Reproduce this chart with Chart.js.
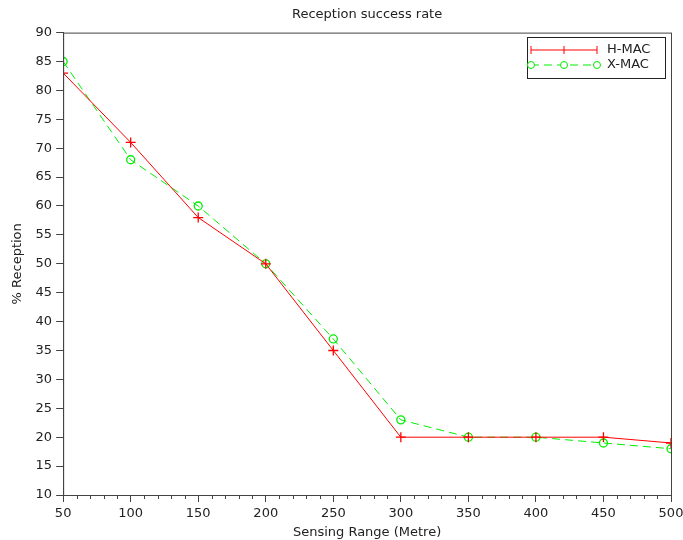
<!DOCTYPE html>
<html>
<head>
<meta charset="utf-8">
<script src="https://cdn.jsdelivr.net/npm/chart.js@4/dist/chart.umd.min.js"></script>
<style>
  body { margin: 0; background: #fff; }
  #wrap { width: 683px; height: 540px; }
</style>
</head>
<body>
<div id="wrap"><canvas id="chart"></canvas></div>
<script>
// valeurs
var ranges = [50, 100, 150, 200, 250, 300, 350, 400, 450, 500];
var hmac = [83, 71, 58, 50, 35, 20, 20, 20, 20, 19];
var xmac = [85, 68, 60, 50, 37, 23, 20, 20, 19, 18];
var yTicks = [10, 15, 20, 25, 30, 35, 40, 45, 50, 55, 60, 65, 70, 75, 80, 85, 90];

var font = 'DejaVu Sans';

// cadre complet + petites graduations + légende
var boxPlugin = {
  id: 'box',
  afterDraw: function (chart) {
    var ctx = chart.ctx, a = chart.chartArea, xs = chart.scales.x;
    ctx.save();
    ctx.strokeStyle = '#444';
    ctx.lineWidth = 1;
    ctx.strokeRect(a.left + 0.5, a.top + 0.5, a.right - a.left, a.bottom - a.top);
    // minor ticks every 10
    ctx.beginPath();
    for (var v = 50; v <= 500; v += 10) {
      if (v % 50 === 0) continue;
      var px = Math.round(xs.getPixelForValue(v)) + 0.5;
      ctx.moveTo(px, a.bottom);
      ctx.lineTo(px, a.bottom + 4);
    }
    ctx.stroke();

    // legend
    var lx = 527, ly = 37, lw = 138, lh = 41;
    ctx.fillStyle = '#fff';
    ctx.fillRect(lx, ly, lw, lh);
    ctx.strokeStyle = '#222';
    ctx.strokeRect(lx + 0.5, ly + 0.5, lw, lh);
    // H-MAC
    var y1 = ly + 13;
    ctx.strokeStyle = '#ff0000';
    ctx.beginPath();
    ctx.moveTo(lx + 4, y1); ctx.lineTo(lx + 70, y1);
    [lx + 4, lx + 37, lx + 70].forEach(function (px) {
      ctx.moveTo(px, y1 - 4); ctx.lineTo(px, y1 + 4);
    });
    ctx.stroke();
    // X-MAC
    var y2 = ly + 28;
    ctx.strokeStyle = '#00ee00';
    ctx.setLineDash([8, 5]);
    ctx.beginPath();
    ctx.moveTo(lx + 4, y2); ctx.lineTo(lx + 70, y2);
    ctx.stroke();
    ctx.setLineDash([]);
    [lx + 4, lx + 37, lx + 70].forEach(function (px) {
      ctx.beginPath();
      ctx.arc(px, y2, 3.5, 0, Math.PI * 2);
      ctx.fillStyle = '#fff';
      ctx.fill();
      ctx.stroke();
    });
    ctx.fillStyle = '#222';
    ctx.font = '13px ' + font;
    ctx.textBaseline = 'middle';
    ctx.fillText('H-MAC', lx + 80, y1);
    ctx.fillText('X-MAC', lx + 80, y2);
    ctx.restore();
  }
};

new Chart(document.getElementById('chart'), {
  type: 'line',
  data: {
    datasets: [
      {
        label: 'H-MAC',
        data: ranges.map(function (r, i) { return { x: r, y: hmac[i] }; }),
        borderColor: '#ff0000',
        borderWidth: 1,
        pointStyle: 'cross',
        pointRadius: 5,
        pointBorderColor: '#ff0000',
        pointBorderWidth: 1.3,
        tension: 0
      },
      {
        label: 'X-MAC',
        data: ranges.map(function (r, i) { return { x: r, y: xmac[i] }; }),
        borderColor: '#00ee00',
        borderWidth: 1,
        borderDash: [8, 5],
        pointStyle: 'circle',
        pointRadius: 4,
        pointBackgroundColor: 'rgba(255,255,255,0)',
        pointBorderColor: '#00ee00',
        pointBorderWidth: 1.3,
        tension: 0
      }
    ]
  },
  options: {
    responsive: true,
    maintainAspectRatio: false,
    animation: false,
    layout: { padding: { left: 10, right: 12, top: 7, bottom: 0 } },
    plugins: {
      legend: { display: false },
      tooltip: { enabled: false },
      title: {
        display: true,
        fullSize: false,
        text: 'Reception success rate',
        color: '#222',
        font: { family: font, size: 13, weight: 'normal' },
        padding: { top: 0, bottom: 10 }
      }
    },
    scales: {
      x: {
        type: 'linear',
        min: 50,
        max: 500,
        afterFit: function (axis) {
          axis.paddingRight = 0;
          axis.height = 45;
        },
        ticks: {
          stepSize: 50,
          color: '#222',
          font: { family: font, size: 13 },
          maxRotation: 0,
          padding: 4
        },
        grid: { drawOnChartArea: false, drawTicks: true, tickLength: 7, color: '#444' },
        border: { color: '#444' },
        title: {
          display: true,
          text: 'Sensing Range (Metre)',
          color: '#222',
          font: { family: font, size: 13 },
          padding: { top: 0, bottom: 0 }
        }
      },
      y: {
        min: 10,
        max: 90,
        afterBuildTicks: function (axis) {
          axis.ticks = yTicks.map(function (v) { return { value: v }; });
        },
        ticks: {
          color: '#222',
          font: { family: font, size: 13 },
          padding: 4
        },
        grid: { drawOnChartArea: false, drawTicks: true, tickLength: 7, color: '#444' },
        border: { color: '#444' },
        title: {
          display: true,
          text: '% Reception',
          color: '#222',
          font: { family: font, size: 13 },
          padding: { top: 0, bottom: 6 }
        }
      }
    }
  },
  plugins: [boxPlugin]
});
</script>
</body>
</html>
